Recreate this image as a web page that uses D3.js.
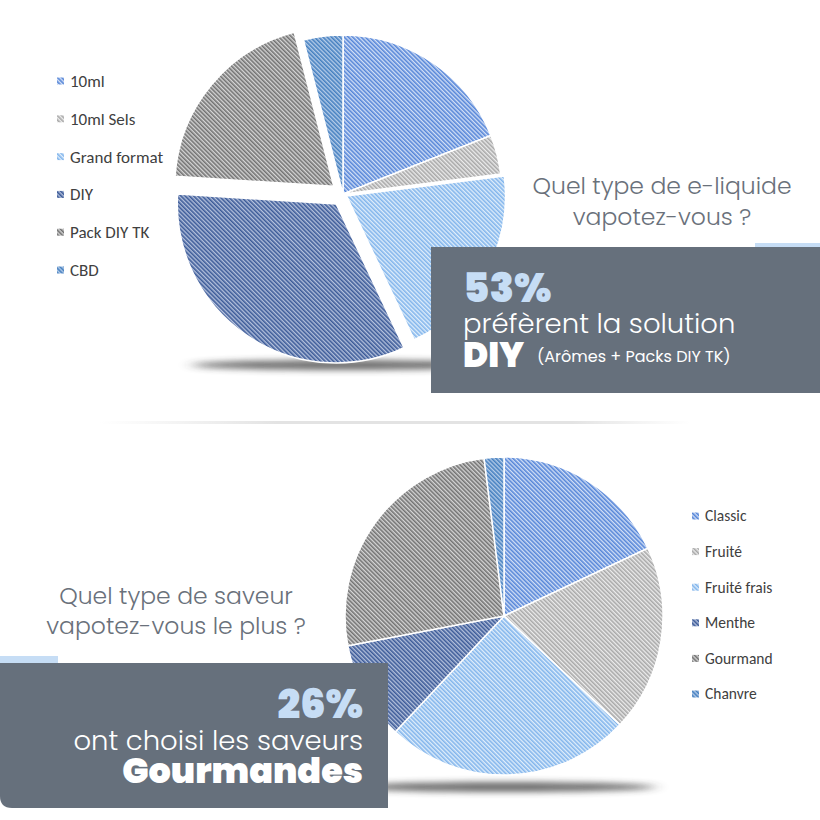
<!DOCTYPE html>
<html><head><meta charset="utf-8">
<script src="https://cdn.jsdelivr.net/npm/d3@7"></script>
<style>
html,body{margin:0;padding:0;background:#fff;}
svg{display:block;}
</style></head>
<body>
<script>
// ---- data ----
const typeLabels = ["10ml","10ml Sels","Grand format","DIY","Pack DIY TK","CBD"];
const typeValues = [19,4,20,33,20,4];
const saveurLabels = ["Classic","Fruité","Fruité frais","Menthe","Gourmand","Chanvre"];
const saveurValues = [18,19,25,10,26,2];
const sliceColors = ["#5585d8","#a8a8a8","#82b5ec","#3c5b98","#727272","#4580c0"];
const sliceBg = ["#d3e0f6","#ececec","#e0eefb","#b4c1dc","#d6d6d6","#b6cde9"];
const typeExplode = [0,0,4,12,12,0];

const W = 820, H = 820;
const svg = d3.select("body").append("svg").attr("width",W).attr("height",H);
const defs = svg.append("defs");

sliceColors.forEach((c,i)=>{
  const p = defs.append("pattern").attr("id","hatch"+i)
    .attr("patternUnits","userSpaceOnUse").attr("width",3).attr("height",3)
    .attr("patternTransform","rotate(-45)");
  p.append("rect").attr("width",3).attr("height",3).attr("fill",sliceBg[i]);
  p.append("rect").attr("width",1.6).attr("height",3).attr("fill",c);
});
const blur = defs.append("filter").attr("id","shadowBlur").attr("x","-20%").attr("y","-200%").attr("width","140%").attr("height","500%");
blur.append("feGaussianBlur").attr("stdDeviation","8 3");
const sepGrad = defs.append("linearGradient").attr("id","sepGrad");
sepGrad.append("stop").attr("offset","0%").attr("stop-color","#e6e6e6").attr("stop-opacity",0);
sepGrad.append("stop").attr("offset","30%").attr("stop-color","#e3e3e3").attr("stop-opacity",1);
sepGrad.append("stop").attr("offset","80%").attr("stop-color","#e3e3e3").attr("stop-opacity",1);
sepGrad.append("stop").attr("offset","100%").attr("stop-color","#e6e6e6").attr("stop-opacity",0);

// separator
svg.append("rect").attr("x",100).attr("y",421).attr("width",590).attr("height",3).attr("fill","url(#sepGrad)");

function drawPie(cx, cy, r, values, explode){
  // shadow
  svg.append("ellipse").attr("cx",cx).attr("cy",cy+r+12).attr("rx",r*0.95).attr("ry",5)
    .attr("fill","#333").attr("opacity",0.7).attr("filter","url(#shadowBlur)");
  const pie = d3.pie().sort(null).value(d=>d);
  const arc = d3.arc().innerRadius(0).outerRadius(r);
  const g = svg.append("g").attr("transform",`translate(${cx},${cy})`);
  g.selectAll("path").data(pie(values)).join("path")
    .attr("d",arc)
    .attr("transform",(d,i)=>{
      const e = explode ? explode[i] : 0;
      const a = (d.startAngle+d.endAngle)/2;
      return `translate(${e*Math.sin(a)},${-e*Math.cos(a)})`;
    })
    .attr("fill",(d,i)=>`url(#hatch${i})`)
    .attr("stroke","#fff").attr("stroke-width",1.5);
}

drawPie(343,194,159,typeValues,typeExplode);
drawPie(504,616,159,saveurValues,null);

function legend(x, y0, dy, labels, size){
  const g = svg.append("g");
  labels.forEach((l,i)=>{
    const y = y0 + i*dy;
    g.append("rect").attr("x",x).attr("y",y-3.5).attr("width",7).attr("height",7).attr("fill",`url(#hatch${i})`);
    g.append("text").attr("x",x+13).attr("y",y).attr("dy","0.35em")
      .attr("font-family","Carlito, 'Open Sans', 'Noto Sans', sans-serif").attr("font-size",size)
      .attr("fill","#404040").text(l);
  });
}
legend(57,81,37.8,typeLabels,17);
legend(692,516,35.6,saveurLabels,15.5);

const FONT = "Poppins, Inter, 'Open Sans', sans-serif";
// top question
const q1 = svg.append("text").attr("font-family",FONT).attr("font-weight",300).attr("font-size",23.5)
  .attr("fill","#6a717b").attr("text-anchor","middle");
q1.append("tspan").attr("x",662).attr("y",194).text("Quel type de e-liquide");
q1.append("tspan").attr("x",662).attr("y",225).text("vapotez-vous ?");

// top box
svg.append("rect").attr("x",755).attr("y",243).attr("width",65).attr("height",14).attr("fill","#c6ddf5");
svg.append("rect").attr("x",431).attr("y",247).attr("width",389).attr("height",146).attr("fill","#66707c");
svg.append("text").attr("x",463).attr("y",302).attr("font-family",FONT).attr("font-weight",900).attr("font-size",40)
  .attr("fill","#c6ddf5").text("53%");
svg.append("text").attr("x",463).attr("y",333).attr("font-family",FONT).attr("font-weight",300).attr("font-size",27.5)
  .attr("fill","#fff").text("préfèrent la solution");
svg.append("text").attr("x",463).attr("y",367).attr("font-family",FONT).attr("font-weight",900).attr("font-size",34)
  .attr("fill","#fff").text("DIY");
svg.append("text").attr("x",537).attr("y",362).attr("font-family",FONT).attr("font-weight",400).attr("font-size",16)
  .attr("fill","#fff").text("(Arômes + Packs DIY TK)");

// bottom question
const q2 = svg.append("text").attr("font-family",FONT).attr("font-weight",300).attr("font-size",23.5)
  .attr("fill","#6a717b").attr("text-anchor","middle");
q2.append("tspan").attr("x",176).attr("y",604).text("Quel type de saveur");
q2.append("tspan").attr("x",176).attr("y",634).text("vapotez-vous le plus ?");

// bottom box
svg.append("rect").attr("x",0).attr("y",656).attr("width",58).attr("height",14).attr("fill","#c6ddf5");
svg.append("path").attr("d","M0,663 H388 V808 H12 Q0,808 0,796 Z").attr("fill","#66707c");
svg.append("text").attr("x",363).attr("y",718).attr("text-anchor","end").attr("font-family",FONT).attr("font-weight",900).attr("font-size",40)
  .attr("fill","#c6ddf5").text("26%");
svg.append("text").attr("x",363).attr("y",750).attr("text-anchor","end").attr("font-family",FONT).attr("font-weight",300).attr("font-size",27.5)
  .attr("fill","#fff").text("ont choisi les saveurs");
svg.append("text").attr("x",363).attr("y",783).attr("text-anchor","end").attr("font-family",FONT).attr("font-weight",900).attr("font-size",35)
  .attr("fill","#fff").text("Gourmandes");
</script>
</body></html>
